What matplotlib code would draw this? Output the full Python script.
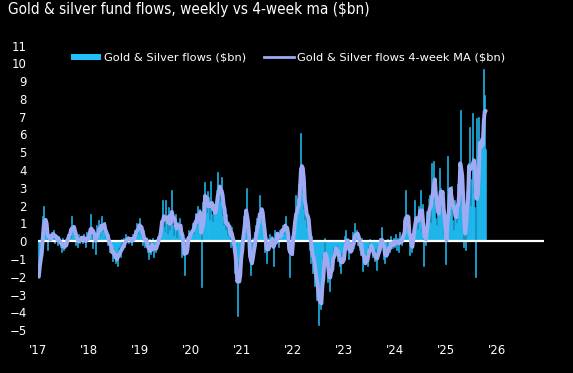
import numpy as np
import pandas as pd
import matplotlib
matplotlib.use('Agg')
import matplotlib.pyplot as plt
from matplotlib.patches import Patch
from matplotlib.lines import Line2D

# weekly gold & silver fund flows ($bn), one list per year
flows_2017 = [-2.0, -0.9, -0.2, 0.3, 1.4, 2.0, 0.9, 0.5, 0.6, -0.5, 0.4, 0.1, 0.3,
              0.5, 0.2, 0.6, -0.1, 0.4, 0.1, -0.2, 0.3, 0.0, -0.3, -0.6, 0.2, -0.5,
              -0.4, 0.1, -0.2, 0.4, 0.3, 0.7, 0.2, 1.4, 0.6, 0.9, 0.3, 0.5, -0.2,
              0.1, -0.3, 0.4, -0.1, 0.3, 0.2, -0.1, 0.4, 0.0, -0.3, 0.5, 0.2, 0.4]
flows_2018 = [0.6, 1.5, 0.3, -0.4, 0.7, 0.5, -0.7, 0.9, 0.4, 1.2, 0.3, 0.6, 1.4,
              0.8, 0.5, 1.1, 0.2, 0.3, -0.2, 0.4, -0.6, -0.3, -0.5, -1.1, -0.4, -0.9,
              -1.2, -0.6, -1.4, -0.3, -0.8, -0.2, -0.9, 0.1, -0.4, 0.2, -0.3, 0.4, 0.0,
              0.3, -0.1, 0.2, 0.1, -0.2, 0.4, 0.1, 0.6, 0.5, 1.0, 0.4, 0.9, 1.3]
flows_2019 = [0.7, 0.3, -0.2, 0.6, -0.3, 0.2, -0.1, -0.6, -1.0, 0.1, -0.7, -0.4, 0.2,
              -0.9, -0.3, -0.6, 0.1, -0.2, 0.3, 0.6, 0.4, 1.1, 2.3, 0.8, 1.4, 0.5,
              2.3, 1.0, 0.4, 1.9, 0.6, 1.2, 2.9, 0.9, 0.3, 0.8, 1.5, 0.2, 1.1,
              0.7, 1.3, 0.4, -0.9, 0.5, -0.6, -1.9, 0.2, -0.4, 0.3, 0.6, 0.1, 0.5]
flows_2020 = [0.6, 1.0, 0.4, 1.2, 1.6, 0.9, 2.0, 1.3, 1.8, 1.4, -2.6, 2.2, 2.6,
              3.3, 2.1, 1.6, 2.8, 1.4, 2.5, 1.2, 3.4, 1.5, 1.1, 2.0, 1.8, 1.6,
              2.9, 3.9, 2.4, 3.1, 2.2, 3.6, 1.4, 0.9, 1.3, 0.6, 1.5, 0.3, 1.1,
              0.4, -0.3, 0.8, 0.2, -0.5, -1.8, -0.9, -2.2, -4.2, -1.1, -1.6, -0.8, -0.3]
flows_2021 = [0.5, 1.4, 0.9, 1.6, 3.0, 0.2, -0.6, -1.1, -1.9, -0.7, -1.3, 0.2, -0.4,
              0.5, 0.9, 1.3, 0.6, 1.6, 2.6, 1.2, 1.8, 0.8, 0.4, -0.6, -0.3, -1.2,
              0.2, -0.5, 0.4, -0.2, 0.3, 0.0, -1.4, 0.6, 0.4, 0.2, 0.5, -0.3, 0.6,
              0.3, 0.7, 0.9, 0.4, 0.8, 1.4, 0.3, 0.5, -0.6, -2.0, -0.4, 0.3, -0.8]
flows_2022 = [0.9, 1.6, 2.6, 0.7, 1.8, 2.4, 3.2, 4.1, 6.1, 3.5, 2.7, 1.8, 1.2,
              2.2, 0.8, 1.5, 0.4, -0.5, -1.2, 0.3, -1.8, -0.9, -2.5, -1.6, -3.3, -2.2,
              -4.7, -3.1, -3.8, -2.4, -0.8, -1.3, 0.2, -0.9, -1.1, -2.3, -1.9, -2.8, -1.2,
              -0.9, -1.6, -0.3, -0.7, -0.4, -0.2, -1.1, -0.5, -1.4, -1.0, -1.8, -0.6, -1.2]
flows_2023 = [-0.6, 0.3, 0.6, -0.2, -0.5, -1.0, -0.3, -0.6, -0.2, 0.5, -0.4, 1.0, 0.3,
              0.6, -0.2, 0.4, -0.5, -0.8, 0.2, -1.7, -0.9, -1.3, -1.1, -0.6, -1.4, -0.2,
              0.1, -0.5, -0.3, -0.9, -0.7, -1.1, -0.4, -1.6, -0.8, -0.3, 0.2, -0.5, 0.8,
              -0.2, -1.0, -0.6, -1.2, -0.4, -0.9, 0.1, -0.3, -0.6, 0.3, -0.2, -0.4, 0.2]
flows_2024 = [-0.3, 0.4, -0.5, 0.2, -0.6, 0.5, 0.1, -0.2, 0.3, 1.2, 0.6, 2.9, 0.7,
              1.4, 0.4, -0.8, 0.3, -0.6, -0.2, 0.9, 2.3, 0.8, 1.2, 0.6, 2.0, 1.4,
              2.9, 0.5, 2.1, -1.4, 0.3, -0.2, 1.7, 0.6, 2.4, 1.8, 2.6, 1.0, 4.4,
              2.8, 4.5, 2.2, 1.3, 0.9, 2.4, 1.6, 4.1, 3.0, 1.8, 2.2, 0.4, 0.9]
flows_2025 = [-1.3, 0.2, 4.8, 2.4, 1.9, 2.7, 3.1, 1.2, 0.6, 2.3, 1.5, 1.0, 3.2,
              2.5, 4.4, 7.4, 2.0, 0.9, -0.3, 1.6, -0.5, 2.8, 3.3, 4.4, 6.4, 2.0,
              3.5, 4.8, 7.2, 2.7, 1.9, -2.0, 6.9, 3.6, 7.0, 4.6, 5.8, 5.1, 6.2,
              9.7, 8.2, 5.2]

year_labels = ["'17", "'18", "'19", "'20", "'21", "'22", "'23", "'24", "'25", "'26"]
y_ticks = list(range(-5, 12))

flows = (flows_2017 + flows_2018 + flows_2019 + flows_2020 + flows_2021
         + flows_2022 + flows_2023 + flows_2024 + flows_2025)
dates = pd.date_range('2017-01-06', periods=len(flows), freq='7D')
s = pd.Series(flows, index=dates)
ma4 = s.rolling(4, min_periods=1).mean()

bar_col = '#1fbff7'
line_col = '#9eaaf4'

fig = plt.figure(figsize=(5.73, 3.73), dpi=100, facecolor='black')
ax = fig.add_axes([0.0663, 0.115, 0.883, 0.763], facecolor='black')

ax.bar(s.index, s.values, width=7, color=bar_col, edgecolor=bar_col,
       linewidth=0.4, zorder=2)
ax.axhline(0, color='white', linewidth=1.6, zorder=3)
ax.plot(ma4.index, ma4.values, color=line_col, linewidth=2.8, zorder=4,
        solid_capstyle='round')

ax.set_ylim(-5, 11)
ax.set_yticks(y_ticks)
ax.set_xlim(pd.Timestamp('2016-12-31'), pd.Timestamp('2026-12-01'))
ax.set_xticks([pd.Timestamp(f'{y}-01-01') for y in range(2017, 2027)])
ax.set_xticklabels(year_labels)

for sp in ax.spines.values():
    sp.set_visible(False)
ax.tick_params(axis='both', length=0, colors='white', labelsize=8.5)
ax.tick_params(axis='x', pad=10)
ax.tick_params(axis='y', pad=8)

handles = [Patch(facecolor=bar_col, edgecolor='none'),
           Line2D([0], [0], color=line_col, linewidth=2)]
leg = ax.legend(handles, ['Gold & Silver flows ($bn)', 'Gold & Silver flows 4-week MA ($bn)'],
                loc='upper left', bbox_to_anchor=(0.045, 1.01), ncol=2, frameon=False,
                fontsize=8.2, labelcolor='white', handlelength=2.6, handleheight=0.5,
                columnspacing=1.6, handletextpad=0.3)

fig.text(0.014, 0.995, 'Gold & silver fund flows, weekly vs 4-week ma ($bn)',
         color='white', fontsize=11, va='top', ha='left',
         family=['Liberation Sans Narrow', 'DejaVu Sans'], fontstretch='condensed')

fig.savefig('out.png', dpi=100, facecolor='black')
